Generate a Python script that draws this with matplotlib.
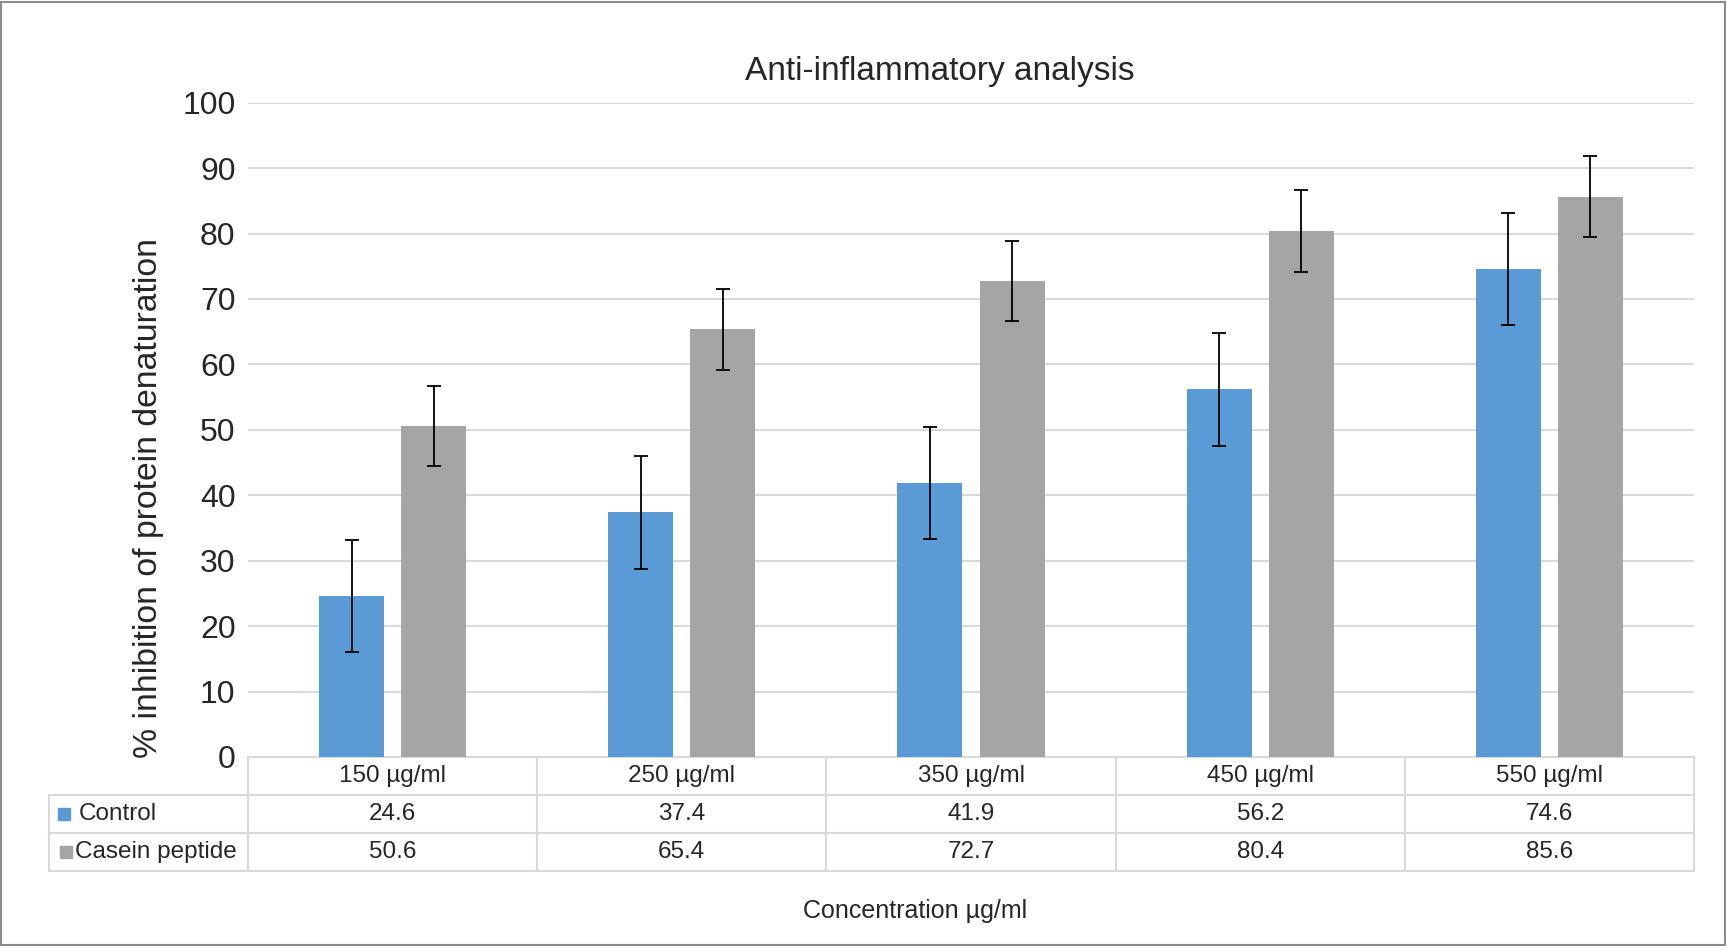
import numpy as np
import matplotlib
matplotlib.use("Agg")
import matplotlib.pyplot as plt
from matplotlib.patches import Rectangle
from matplotlib.table import Table

plt.rcParams['font.family'] = ['Liberation Sans', 'DejaVu Sans']

# data
concentrations = ["150 µg/ml", "250 µg/ml", "350 µg/ml", "450 µg/ml", "550 µg/ml"]
series_names = ["Control", "Casein peptide"]
control = [24.6, 37.4, 41.9, 56.2, 74.6]
casein = [50.6, 65.4, 72.7, 80.4, 85.6]
control_err = [8.6, 8.6, 8.6, 8.6, 8.6]
casein_err = [6.1, 6.2, 6.1, 6.2, 6.2]

BLUE = "#5b9bd5"
GREY = "#a5a5a5"
TXT = "#262626"
GRID = "#d9d9d9"

W, H = 1727, 946
fig = plt.figure(figsize=(W / 100, H / 100), dpi=100)
ax = fig.add_axes([248 / W, 1 - 757 / H, (1694 - 248) / W, (757 - 102.7) / H])

x = np.arange(len(concentrations))
BAR_W = 0.225
OFF = 0.142
ax.bar(x - OFF, control, BAR_W, color=BLUE, zorder=2)
ax.bar(x + OFF, casein, BAR_W, color=GREY, zorder=2)
ax.errorbar(x - OFF, control, yerr=control_err, fmt="none", ecolor="black",
            elinewidth=1.3, capsize=5, capthick=1.3, zorder=3)
ax.errorbar(x + OFF, casein, yerr=casein_err, fmt="none", ecolor="black",
            elinewidth=1.3, capsize=5, capthick=1.3, zorder=3)

ax.set_xlim(-0.5, len(concentrations) - 0.5)
ax.set_ylim(0, 100)
ax.set_yticks(np.arange(0, 101, 10))
ax.set_xticks([])
ax.grid(axis="y", color=GRID, linewidth=1.5, zorder=0)
ax.set_axisbelow(True)
for s in ax.spines.values():
    s.set_visible(False)
ax.tick_params(axis="y", length=0, pad=9, labelsize=23, labelcolor=TXT)

# data table under the axis
LAB_W = 0.1376
tbl = Table(ax, bbox=[-LAB_W, -0.1742, 1 + LAB_W, 0.1742])
h = 1.0 / 3
for j, lab in enumerate(concentrations):
    tbl.add_cell(0, j + 1, width=0.2, height=h, text=lab, loc="center")
pads = [0.151, 0.131]
for i, (name, vals) in enumerate(zip(series_names, [control, casein]), start=1):
    c = tbl.add_cell(i, 0, width=LAB_W, height=h, text=name, loc="left")
    c.PAD = pads[i - 1]
    for j, v in enumerate(vals):
        tbl.add_cell(i, j + 1, width=0.2, height=h, text=f"{v:.1f}", loc="center")
tbl.auto_set_font_size(False)
tbl.set_fontsize(17.5)
for cell in tbl.get_celld().values():
    cell.get_text().set_color(TXT)
    cell.set_edgecolor(GRID)
    cell.set_linewidth(1.5)
ax.add_table(tbl)

# legend keys inside the row labels
fig.patches.append(Rectangle((58 / W, 1 - 820 / H), 12 / W, 12 / H,
                             transform=fig.transFigure, color=BLUE))
fig.patches.append(Rectangle((60 / W, 1 - 858 / H), 12 / W, 12 / H,
                             transform=fig.transFigure, color=GREY))

fig.text(939.5 / W, 1 - 80 / H, "Anti-inflammatory analysis", ha="center",
         va="baseline", fontsize=24, color=TXT)
fig.text(915 / W, 1 - 918 / H, "Concentration µg/ml", ha="center",
         va="baseline", fontsize=18, color=TXT)
fig.text(149 / W, 1 - 758 / H, "% inhibition of protein denaturation",
         rotation=90, ha="center", va="bottom", fontsize=24.3, color=TXT)

# outer chart border
fig.patches.append(Rectangle((1 / W, 1 / H), (W - 3) / W, (H - 3) / H,
                             transform=fig.transFigure, fill=False,
                             edgecolor="#8c8c8c", linewidth=1.5))

fig.savefig("out.png", dpi=100)
